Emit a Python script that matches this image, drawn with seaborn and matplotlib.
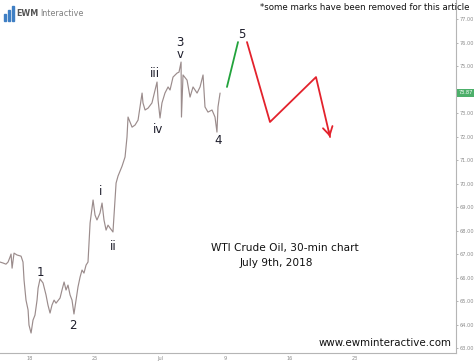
import matplotlib.pyplot as plt
from matplotlib.patches import Rectangle
import matplotlib.transforms as mtransforms
import seaborn as sns

# x axis is counted in trading days from June 18th
DAY_TICKS = [0, 5, 10, 15, 20, 25]
DAY_LABELS = ["18", "25", "Jul", "9", "16", "23"]
# 74.00 sits behind the last price tag, so it is not shown
PRICE_TICKS = [63, 64, 65, 66, 67, 68, 69, 70, 71, 72, 73, 75, 76, 77]
LAST_PRICE = 73.87

# WTI 30-min price path
days = [
    -2.31, -2.08, -1.85, -1.69, -1.54, -1.46, -1.38, -1.23, -1.0, -0.69,
    -0.54, -0.46, -0.31, -0.15, -0.08, 0.08, 0.23, 0.38, 0.54, 0.62,
    0.77, 1.0, 1.23, 1.38, 1.54, 1.69, 1.85, 2.0, 2.31, 2.46,
    2.62, 2.77, 2.92, 3.08, 3.23, 3.38, 3.54, 3.69, 3.85, 4.0,
    4.15, 4.31, 4.46, 4.62, 4.85, 5.0, 5.15, 5.38, 5.54, 5.69,
    5.85, 6.0, 6.15, 6.38, 6.62, 6.77, 7.08, 7.31, 7.46, 7.54,
    7.69, 7.85, 8.08, 8.31, 8.62, 8.69, 8.85, 9.08, 9.38, 9.62,
    9.77, 9.85, 10.0, 10.15, 10.38, 10.62, 10.77, 11.0, 11.31, 11.46,
    11.62, 11.65, 11.77, 12.08, 12.31, 12.54, 12.85, 13.08, 13.31, 13.46,
    13.69, 14.0, 14.23, 14.38, 14.46, 14.62,
]
prices = [
    66.66, 66.62, 66.57, 66.66, 66.87, 67.00, 66.40, 67.04, 66.96, 66.91,
    66.66, 65.89, 65.04, 64.62, 63.98, 63.64, 64.19, 64.40, 65.04, 65.55,
    65.94, 65.77, 65.26, 64.83, 64.49, 64.83, 65.04, 64.91, 65.13, 65.47,
    65.81, 65.47, 65.68, 65.26, 65.04, 64.45, 65.04, 65.60, 66.02, 66.32,
    66.19, 66.53, 66.66, 68.32, 69.30, 68.66, 68.45, 68.74, 69.17, 68.45,
    68.02, 68.23, 68.11, 67.94, 70.02, 70.32, 70.74, 71.13, 71.98, 72.83,
    72.62, 72.40, 72.49, 72.70, 73.85, 73.43, 73.13, 73.21, 73.43, 73.98,
    74.32, 73.55, 72.79, 73.43, 73.85, 74.11, 73.98, 74.53, 74.70, 74.74,
    75.17, 72.83, 74.62, 74.40, 73.68, 74.11, 73.85, 74.11, 74.62, 73.26,
    73.04, 73.13, 72.83, 72.19, 73.26, 73.85,
]

# projected wave 5 and the following correction
wave5_days = [15.15, 16.0]
wave5_prices = [74.11, 76.02]
correction_days = [16.69, 18.46, 22.0, 23.08]
correction_prices = [76.02, 72.62, 74.53, 71.98]

wave_labels = ["1", "2", "i", "ii", "iii", "iv", "3", "v", "4", "5"]
wave_label_days = [0.77, 3.31, 5.46, 6.38, 9.62, 9.85, 11.54, 11.54, 14.46, 16.31]
wave_label_prices = [66.23, 63.94, 69.68, 67.34, 74.70, 72.28, 76.02, 75.51, 71.85, 76.36]


def draw_logo(fig):
    """Small EWM Interactive mark in the top left corner"""
    for x, h in [(4, 7), (8, 11), (12, 15)]:
        fig.patches.append(
            Rectangle(
                (x / 474, 1 - 21 / 362), 1.6 / 474, h / 362,
                transform=fig.transFigure, color="#3f7fc4", zorder=5,
            )
        )
    fig.text(16 / 474, 1 - 13 / 362, "EWM", fontsize=5.8, fontweight="bold",
             color="#555555", va="center", ha="left")
    fig.text(40 / 474, 1 - 13 / 362, "Interactive", fontsize=5.8,
             color="#808080", va="center", ha="left")


sns.set_style("white")
plt.rcParams["font.family"] = ["DejaVu Sans"]

fig = plt.figure(figsize=(4.74, 3.62), dpi=100)
ax = fig.add_axes([0.0, 1 - 353 / 362, 456 / 474, 353 / 362])

sns.lineplot(x=days, y=prices, ax=ax, color="#9b8c8c", linewidth=0.85,
             estimator=None, sort=False)
sns.lineplot(x=wave5_days, y=wave5_prices, ax=ax, color="#22a33c",
             linewidth=1.3, estimator=None, sort=False)
sns.lineplot(x=correction_days, y=correction_prices, ax=ax, color="#e3222c",
             linewidth=1.3, estimator=None, sort=False)

# arrow head at the end of the correction
ax.annotate(
    "", xy=(correction_days[-1], correction_prices[-1]),
    xytext=(correction_days[-2] + 0.9 * (correction_days[-1] - correction_days[-2]),
            correction_prices[-2] + 0.9 * (correction_prices[-1] - correction_prices[-2])),
    arrowprops=dict(arrowstyle="->,head_length=0.6,head_width=0.35",
                    color="#e3222c", lw=1.3, shrinkA=0, shrinkB=0),
)

for label, d, p in zip(wave_labels, wave_label_days, wave_label_prices):
    ax.text(d, p, label, fontsize=8.5, color="#1d1d2b", ha="center", va="center")

ax.set_xlim(-2.31, 32.77)
ax.set_ylim(62.79, 77.81)
ax.set_xticks(DAY_TICKS)
ax.set_xticklabels(DAY_LABELS)
ax.set_yticks(PRICE_TICKS)
ax.set_yticklabels([f"{p:.2f}" for p in PRICE_TICKS])
ax.yaxis.tick_right()
ax.tick_params(axis="both", labelsize=3.6, labelcolor="#8a8a8a", color="#aaaaaa",
               length=1.5, width=0.6, pad=1.0)
ax.tick_params(axis="x", length=0, pad=2)

for side in ["top", "left"]:
    ax.spines[side].set_visible(False)
for side in ["right", "bottom"]:
    ax.spines[side].set_color("#b5b5b5")
    ax.spines[side].set_linewidth(0.8)

# last price tag on the price axis
trans = mtransforms.blended_transform_factory(ax.transAxes, ax.transData)
ax.text(1.006, LAST_PRICE, f"{LAST_PRICE:.2f}", transform=trans, fontsize=3.6,
        color="white", va="center", ha="left",
        bbox=dict(boxstyle="square,pad=0.3", fc="#4caf6a", ec="none"))

ax.text(0.625, 0.297, "WTI Crude Oil, 30-min chart", transform=ax.transAxes,
        fontsize=7.6, color="#111111", ha="center", va="center")
ax.text(0.607, 0.255, "July 9th, 2018", transform=ax.transAxes,
        fontsize=7.6, color="#111111", ha="center", va="center")
ax.text(0.991, 0.028, "www.ewminteractive.com", transform=ax.transAxes,
        fontsize=7.4, color="#111111", ha="right", va="center")
fig.text(470 / 474, 1 - 8 / 362, "*some marks have been removed for this article",
         fontsize=6.2, color="#111111", ha="right", va="center")

draw_logo(fig)

fig.savefig("out.png", dpi=100)
